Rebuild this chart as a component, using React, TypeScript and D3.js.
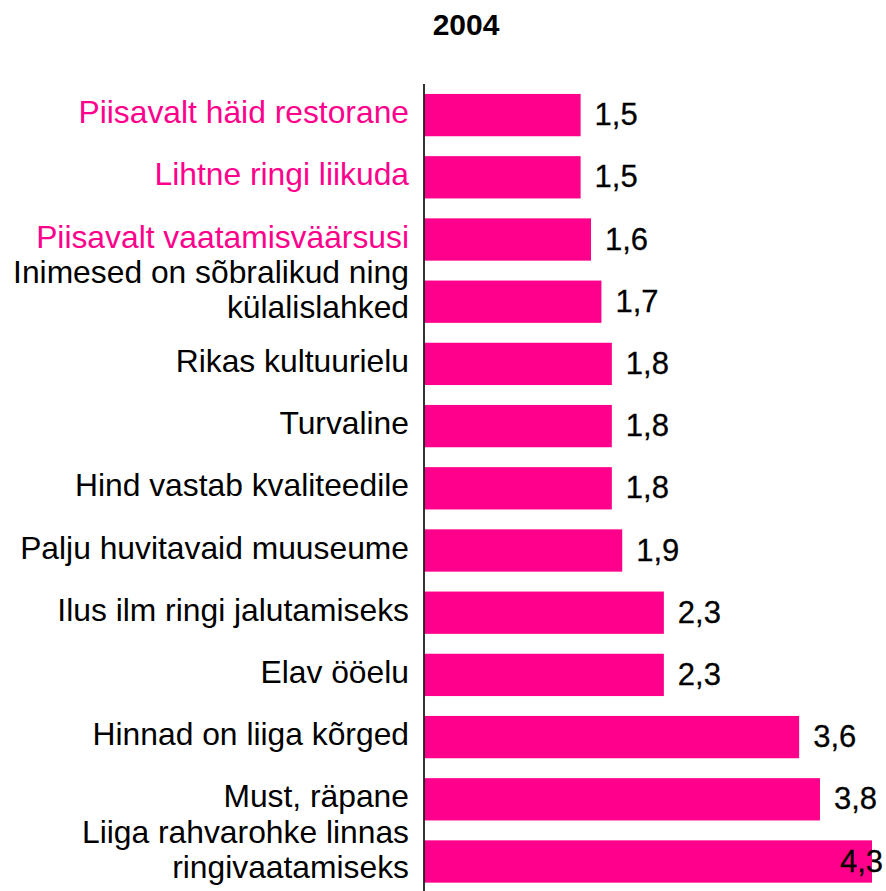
import React, { useEffect, useRef } from 'react';
import * as d3 from 'd3';

// categories top to bottom, \n marks a wrapped label
const categories = [
  'Piisavalt häid restorane',
  'Lihtne ringi liikuda',
  'Piisavalt vaatamisväärsusi',
  'Inimesed on sõbralikud ning\nkülalislahked',
  'Rikas kultuurielu',
  'Turvaline',
  'Hind vastab kvaliteedile',
  'Palju huvitavaid muuseume',
  'Ilus ilm ringi jalutamiseks',
  'Elav ööelu',
  'Hinnad on liiga kõrged',
  'Must, räpane',
  'Liiga rahvarohke linnas\nringivaatamiseks',
];
const values = [1.5, 1.5, 1.6, 1.7, 1.8, 1.8, 1.8, 1.9, 2.3, 2.3, 3.6, 3.8, 4.3];
const highlighted = [0, 1, 2]; // labels drawn in magenta
const title = '2004';

const W = 886;
const H = 891;
const PINK = '#ff008c';

export default function App() {
  const ref = useRef<SVGSVGElement | null>(null);

  useEffect(() => {
    if (!ref.current) return;
    const svg = d3.select(ref.current);
    svg.selectAll('*').remove();

    const x = d3.scaleLinear().domain([0, 4.3]).range([424.5, 872]);
    const y = d3.scaleBand<number>()
      .domain(d3.range(categories.length))
      .range([84, 84 + 62.2 * categories.length])
      .paddingInner(0.32)
      .paddingOuter(0.16);

    const font = 'Liberation Sans, Arial, sans-serif';

    // title
    svg.append('text')
      .attr('x', 466)
      .attr('y', 35)
      .attr('text-anchor', 'middle')
      .style('font-family', font)
      .style('font-size', '30px')
      .style('font-weight', 'bold')
      .text(title);

    // bars
    svg.selectAll('.bar')
      .data(values)
      .join('rect')
      .attr('class', 'bar')
      .attr('x', x(0))
      .attr('y', (d, i) => y(i)!)
      .attr('width', d => x(d) - x(0))
      .attr('height', y.bandwidth())
      .attr('fill', PINK);

    // axis line
    svg.append('line')
      .attr('x1', x(0) - 0.5)
      .attr('x2', x(0) - 0.5)
      .attr('y1', 84)
      .attr('y2', H + 5)
      .attr('stroke', '#000')
      .attr('stroke-width', 1.6);

    // category labels
    categories.forEach((c, i) => {
      const cy = y(i)! + y.bandwidth() / 2;
      const lines = c.split('\n');
      const t = svg.append('text')
        .attr('text-anchor', 'end')
        .style('font-family', font)
        .style('font-size', '31.8px')
        .attr('fill', highlighted.includes(i) ? PINK : '#000');
      if (lines.length === 1) {
        t.append('tspan').attr('x', 409).attr('y', cy + 8).text(lines[0]);
      } else {
        t.append('tspan').attr('x', 409).attr('y', cy - 19).text(lines[0]);
        t.append('tspan').attr('x', 409).attr('y', cy + 16).text(lines[1]);
      }
    });

    // value labels
    svg.selectAll('.val')
      .data(values)
      .join('text')
      .attr('class', 'val')
      .attr('x', d => (x(d) + 14 + 44 > W ? W - 3 : x(d) + 14))
      .attr('y', (d, i) => y(i)! + y.bandwidth() / 2 + 10)
      .attr('text-anchor', d => (x(d) + 14 + 44 > W ? 'end' : 'start'))
      .style('font-family', font)
      .style('font-size', '31px')
      .attr('fill', '#000')
      .attr('stroke', '#000')
      .attr('stroke-width', 0.3)
      .text(d => d.toFixed(1).replace('.', ','));
  }, []);

  return (
    <svg
      ref={ref}
      width={W}
      height={H}
      style={{ position: 'absolute', left: 0, top: 0, background: '#fff' }}
    />
  );
}
